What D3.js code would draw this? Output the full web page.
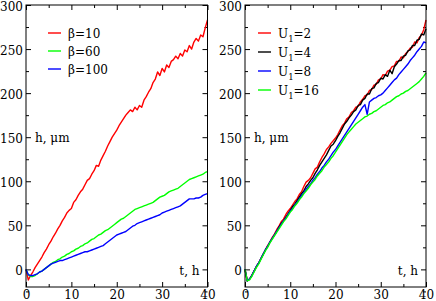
<!DOCTYPE html>
<html><head><meta charset="utf-8">
<script src="https://cdn.jsdelivr.net/npm/d3@7"></script>
<style>body{margin:0;background:#fff}svg{display:block}</style>
</head><body><svg id="c" width="436" height="301"></svg>
<script>
const times = [0,0.5,1,1.5,2,2.5,3,3.5,4,4.5,5,5.5,6,6.5,7,7.5,8,8.5,9,9.5,10,10.5,11,11.5,12,12.5,13,13.5,14,14.5,15,15.5,16,16.5,17,17.5,18,18.5,19,19.5,20,20.5,21,21.5,22,22.5,23,23.5,24,24.5,25,25.5,26,26.5,27,27.5,28,28.5,29,29.5,30,30.5,31,31.5,32,32.5,33,33.5,34,34.5,35,35.5,36,36.5,37,37.5,38,38.5,39,39.5,40];
const xTicks = [0,10,20,30,40];
const xMinor = [5,15,25,35];
const yTicks = [0,50,100,150,200,250,300];
const yMinor = [-25,25,75,125,175,225,275];
// left panel
const beta10 = [0,-12,-7,-3,2,6,10,14,19,23,28,32,37,41,46,50,55,59,64,67,69,76,79,84,88,91,96,101,103,108,112,118,117,124,129,134,140,145,150,154,158,163,167,171,175,178,181,179,184,181,186,184,192,196,201,205,212,216,224,220,228,224,232,229,236,238,242,239,245,242,249,247,254,250,258,262,259,266,264,274,283];
const beta60 = [0,-6,-8,-8,-7,-5,-3,-2,0,2,4,6,8,9,11,12,14,15,17,18,20,21,23,24,26,27,29,30,32,34,35,37,39,40,42,44,45,47,49,51,53,55,57,58,60,62,64,66,68,69,70,71,72,73,74,75,76,78,80,82,83,84,86,88,89,90,91,92,94,96,98,100,102,103,104,105,106,107,108,110,111];
const beta100 = [0,-6,-7,-7,-6,-5,-3,-2,0,2,4,6,7,8,9,10,10,11,12,13,14,15,16,17,18,19,20,20,21,22,23,24,25,26,27,29,31,33,35,37,39,40,41,42,43,45,47,49,50,52,53,54,55,56,57,58,59,60,61,62,64,65,66,67,68,69,70,71,72,74,76,78,80,80,80,81,81,82,84,85,86];
const leftLabels = ["β=10","β=60","β=100"];
// right panel
const u2 = [0,-13,-11,-7,-2,3,7,12,17,22,27,31,36,40,45,49,54,57,62,66,69,73,77,80,85,88,94,99,101,104,109,114,116,122,127,131,136,139,143,146,149,153,158,163,166,171,173,178,180,184,185,190,193,197,198,203,204,209,210,215,216,221,220,225,226,230,231,236,236,241,240,245,247,251,252,258,257,263,266,272,283];
const u4 = [0,-13,-11,-7,-2,3,7,12,17,22,26,31,35,39,43,48,52,55,59,63,67,71,74,78,82,86,89,94,97,101,104,109,113,118,122,126,130,135,140,142,146,151,155,160,165,168,172,175,179,181,186,187,192,194,199,199,205,206,211,212,217,216,221,219,226,222,230,233,237,237,242,243,248,249,254,254,260,261,267,266,273];
const u8 = [0,-13,-11,-7,-2,3,7,12,17,22,26,31,35,39,43,47,51,55,58,62,66,69,73,76,80,84,87,91,94,97,101,104,108,111,115,118,122,125,129,133,136,140,144,148,152,156,160,164,168,172,176,180,184,187,176,190,192,194,195,197,198,200,203,206,209,212,215,217,221,224,227,230,233,237,240,243,247,250,253,258,257];
const u16 = [0,-13,-12,-8,-3,2,6,11,16,21,25,30,34,38,42,46,50,54,57,61,65,68,72,75,79,82,86,89,92,96,99,102,106,109,112,116,119,122,126,129,133,137,141,145,149,153,156,159,162,165,167,169,171,173,174,176,177,179,180,182,184,186,187,189,190,192,194,196,197,199,200,202,203,205,207,209,211,213,216,219,223];
const rightLabels = [["U","1","=2"],["U","1","=4"],["U","1","=8"],["U","1","=16"]];

const svg = d3.select("#c");
const yTop = 5, yBot = 287;
const FONT = "DejaVu Serif";
const FS = 12;
const y = d3.scaleLinear().domain([-20,300]).range([yBot, yTop]);

function panel(x0, x1, series, colors, legend, legX, legY, legDY, sub) {
  const x = d3.scaleLinear().domain([0,40]).range([x0, x1]);
  const g = svg.append("g").attr("font-family", FONT);
  const ax = (gen, tr) => {
    const a = g.append("g").attr("transform", tr).call(gen);
    a.attr("font-family", FONT).attr("font-size", FS);
    a.select(".domain").remove();
    a.selectAll("line").attr("stroke","#000");
    a.selectAll("text").attr("fill","#000");
    return a;
  };
  ax(d3.axisBottom(x).tickValues(xTicks).tickSize(-5).tickPadding(3).tickFormat(d3.format("d")), `translate(0,${yBot})`);
  ax(d3.axisBottom(x).tickValues(xMinor).tickSize(-3).tickFormat(""), `translate(0,${yBot})`);
  ax(d3.axisTop(x).tickValues(xTicks).tickSize(-5).tickFormat(""), `translate(0,${yTop})`);
  ax(d3.axisTop(x).tickValues(xMinor).tickSize(-3).tickFormat(""), `translate(0,${yTop})`);
  const yl = ax(d3.axisLeft(y).tickValues(yTicks).tickSize(-5).tickPadding(3).tickFormat(d3.format("d")), `translate(${x0},0)`);
  yl.selectAll("text").attr("dy","0.42em");
  ax(d3.axisLeft(y).tickValues(yMinor).tickSize(-3).tickFormat(""), `translate(${x0},0)`);
  ax(d3.axisRight(y).tickValues(yTicks).tickSize(-5).tickFormat(""), `translate(${x1},0)`);
  ax(d3.axisRight(y).tickValues(yMinor).tickSize(-3).tickFormat(""), `translate(${x1},0)`);

  const line = d3.line().x((d,i)=>x(times[i])).y(d=>y(d));
  series.forEach((s,k)=>{
    g.append("path").attr("d", line(s)).attr("fill","none").attr("stroke",colors[k]).attr("stroke-width",1.4).attr("stroke-linejoin","round");
  });
  g.append("rect").attr("x",x0).attr("y",yTop).attr("width",x1-x0).attr("height",yBot-yTop)
    .attr("fill","none").attr("stroke","#000").attr("stroke-width",1);

  legend.forEach((L,k)=>{
    const yy = legY + k*legDY;
    g.append("line").attr("x1",legX).attr("x2",legX+13).attr("y1",yy).attr("y2",yy).attr("stroke",colors[k]).attr("stroke-width",1.4);
    const t = g.append("text").attr("x",legX+20).attr("y",yy+4.5).attr("font-size",FS);
    if (sub) {
      t.append("tspan").text(L[0]);
      t.append("tspan").attr("font-size",8.5).attr("dy",4).text(L[1]);
      t.append("tspan").attr("dy",-4).text(L[2]);
    } else t.text(L);
  });
  g.append("text").attr("x",x0+9).attr("y",142).attr("font-size",FS).text("h, μm");
  g.append("text").attr("x",x1-8).attr("y",275).attr("font-size",FS).attr("text-anchor","end").text("t, h");
}

panel(26, 207.5, [beta10,beta60,beta100], ["#ff0000","#00ff00","#0000ff"], leftLabels, 48, 33, 18, false);
panel(245, 426, [u2,u4,u8,u16], ["#ff0000","#000000","#0000ff","#00ff00"], rightLabels, 258, 33, 19, true);
</script></body></html>
